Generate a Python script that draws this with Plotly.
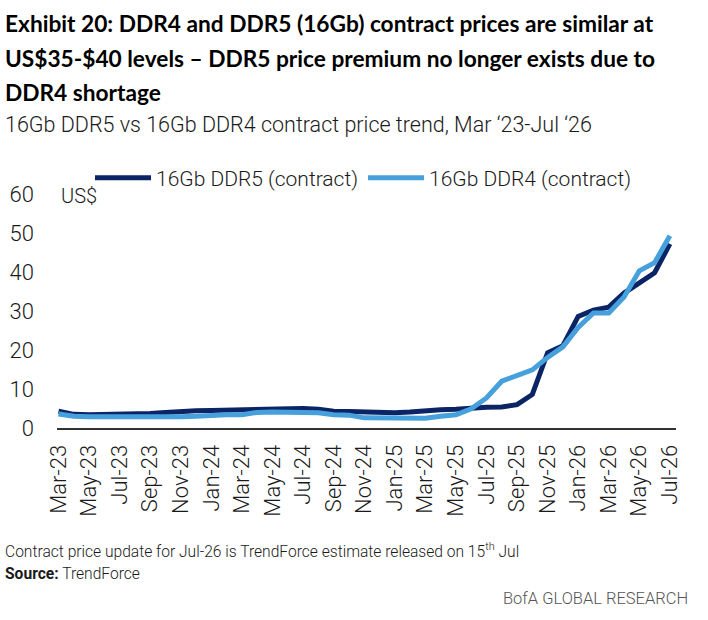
import plotly.graph_objects as go

#Months Shown On The Chart
months = ["Mar-23", "Apr-23", "May-23", "Jun-23", "Jul-23", "Aug-23", "Sep-23",
	"Oct-23", "Nov-23", "Dec-23", "Jan-24", "Feb-24", "Mar-24", "Apr-24",
	"May-24", "Jun-24", "Jul-24", "Aug-24", "Sep-24", "Oct-24", "Nov-24",
	"Dec-24", "Jan-25", "Feb-25", "Mar-25", "Apr-25", "May-25", "Jun-25",
	"Jul-25", "Aug-25", "Sep-25", "Oct-25", "Nov-25", "Dec-25", "Jan-26",
	"Feb-26", "Mar-26", "Apr-26", "May-26", "Jun-26", "Jul-26"]

#16Gb DDR5 Contract Price (US$)
ddr5 = [4.3, 3.5, 3.4, 3.4, 3.4, 3.6, 3.7, 4.0, 4.3, 4.4, 4.5, 4.6, 4.6,
	5.0, 5.0, 5.0, 5.0, 4.8, 4.3, 4.2, 4.0, 3.9, 3.9, 4.1, 4.5, 4.7, 4.8,
	5.2, 5.3, 5.4, 6.0, 8.6, 19.3, 21.1, 28.6, 30.2, 31.0, 34.6, 37.2,
	39.8, 47.2]

#16Gb DDR4 Contract Price (US$)
ddr4 = [3.6, 3.0, 2.9, 2.9, 2.8, 2.7, 2.6, 2.7, 2.9, 3.0, 3.3, 3.4, 3.4,
	4.0, 4.1, 4.1, 4.1, 3.9, 3.4, 3.3, 2.6, 2.5, 2.5, 2.5, 2.5, 3.0, 3.4,
	4.9, 7.7, 12.0, 13.3, 14.9, 18.1, 20.8, 25.8, 29.5, 29.5, 33.6, 40.3,
	42.4, 49.3]

#Every Other Month Gets A Tick Label
tick_labels = months[::2]

series_names = ["16Gb DDR5 (contract)", "16Gb DDR4 (contract)"]
series_colors = ["#0b2466", "#45a0dc"]

title_lines = [
	"Exhibit 20: DDR4 and DDR5 (16Gb) contract prices are similar at",
	"US$35-$40 levels \u2013 DDR5 price premium no longer exists due to",
	"DDR4 shortage"]
subtitle = "16Gb DDR5 vs 16Gb DDR4 contract price trend, Mar \u201823-Jul \u201826"
footnote = "Contract price update for Jul-26 is TrendForce estimate released on 15<sup>th</sup> Jul"
source = "<b>Source:</b> TrendForce"
brand = "BofA GLOBAL RESEARCH"

W, H = 708, 620

#Plot Area In Pixels
LEFT, RIGHT, TOP, BOTTOM = 57, 676, 194, 428

BOLD_FONT = "Lato, Roboto"
LIGHT_FONT = "Roboto"


def px(x):
	return (x - LEFT) / (RIGHT - LEFT)


def py(y):
	return (BOTTOM - y) / (BOTTOM - TOP)


def text(fig, txt, x, y, size, family=LIGHT_FONT, weight=300,
	anchor="left", color="#1a1a1a"):
	fig.add_annotation(text=txt, x=px(x), y=py(y), xref="paper",
		yref="paper", showarrow=False, xanchor=anchor, yanchor="middle",
		font=dict(family=family, size=size, color=color, weight=weight))


fig = go.Figure()

for name, values, color in zip(series_names, [ddr5, ddr4], series_colors):
	fig.add_trace(go.Scatter(x=months, y=values, name=name, mode="lines",
		line=dict(color=color, width=5)))

fig.update_layout(
	width=W, height=H,
	margin=dict(l=LEFT, r=W - RIGHT, t=TOP, b=H - BOTTOM),
	plot_bgcolor="white", paper_bgcolor="white",
	font=dict(family=LIGHT_FONT, size=20, color="#1a1a1a", weight=300),
	showlegend=True,
	legend=dict(orientation="h", x=px(90), y=py(178), xanchor="left",
		yanchor="middle", font=dict(size=21, weight=300),
		bgcolor="rgba(0,0,0,0)", itemwidth=56, tracegroupgap=0))

fig.update_xaxes(type="category", range=[-0.1, 40.4], tickvals=tick_labels,
	ticktext=tick_labels, tickangle=-90, showgrid=False, showline=True,
	linecolor="#333333", linewidth=2, ticks="", tickfont=dict(size=22),
	ticklabelstandoff=6, automargin=False)

fig.update_yaxes(range=[0, 60], dtick=10, showgrid=False, zeroline=False,
	showline=False, ticks="", tickfont=dict(size=22), ticklabelstandoff=22,
	automargin=False)

#Titles And Notes
for i, line in enumerate(title_lines):
	text(fig, line, 3, 24 + 34 * i, 22.7, BOLD_FONT, 700, color="#000000")
text(fig, subtitle, 3, 125, 21.5)
text(fig, "US$", 59, 196, 20)
text(fig, footnote, 3, 550, 15.6)
text(fig, source, 3, 574, 15.6)
text(fig, brand, 690, 598, 16.5, anchor="right", color="#555555")

#Drop The Default Body Margin So The Figure Fills The Window, Hide The Modebar
fig.write_html("out.html", config={"displayModeBar": False},
	post_script="document.body.style.margin='0';")
